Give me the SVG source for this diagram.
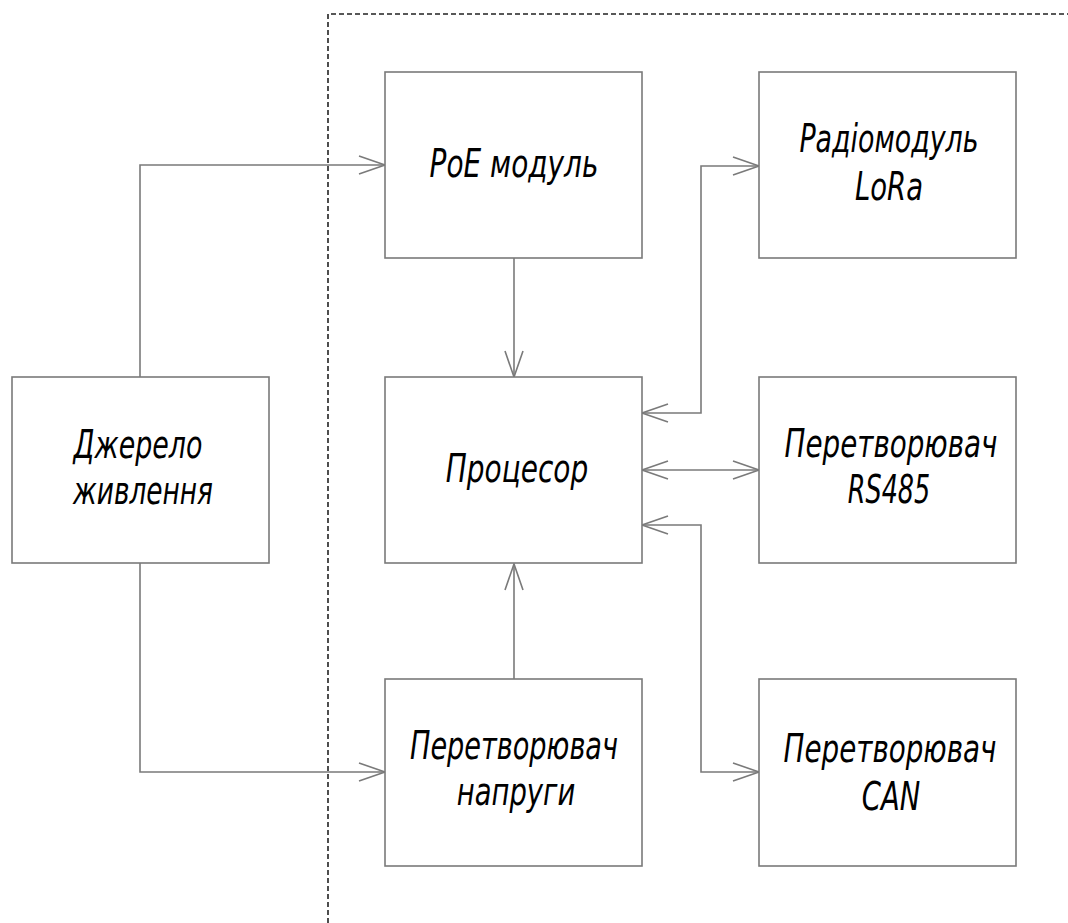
<svg xmlns="http://www.w3.org/2000/svg" width="1068" height="923" viewBox="0 0 1068 923">
<style>
.box{fill:#fff;stroke:#7a7a7a;stroke-width:1.6}
.ln{fill:none;stroke:#7a7a7a;stroke-width:1.6}
.dash{fill:none;stroke:#222;stroke-width:1.6;stroke-dasharray:5,3}
.t{font-family:"DejaVu Sans","Liberation Sans",sans-serif;font-style:italic;font-size:39px;fill:#000;text-anchor:middle}
</style>
<defs>
<marker id="ah" markerUnits="userSpaceOnUse" markerWidth="30" markerHeight="22" refX="28" refY="11" orient="auto-start-reverse" overflow="visible">
<path d="M2,2 L28,11 L2,20" fill="none" stroke="#7a7a7a" stroke-width="1.6"/>
</marker>
</defs>
<rect width="1068" height="923" fill="#fff"/>
<path class="dash" d="M328,923 V14 H1068"/>
<g id="connectors">
<path class="ln" d="M140,377 V165 H385" marker-end="url(#ah)"/>
<path class="ln" d="M140,563 V772 H385" marker-end="url(#ah)"/>
<path class="ln" d="M514,258 V377" marker-end="url(#ah)"/>
<path class="ln" d="M514,679 V564" marker-end="url(#ah)"/>
<path class="ln" d="M642,413 H701 V166 H759" marker-start="url(#ah)" marker-end="url(#ah)"/>
<path class="ln" d="M642,470 H759" marker-start="url(#ah)" marker-end="url(#ah)"/>
<path class="ln" d="M642,525 H701 V772 H759" marker-start="url(#ah)" marker-end="url(#ah)"/>
</g>
<g id="poe">
<rect class="box" x="385" y="72" width="257" height="186"/>
<text class="t" transform="translate(514,177) scale(0.8,1)" textLength="211" lengthAdjust="spacingAndGlyphs">PoE модуль</text>
</g>
<g id="lora">
<rect class="box" x="759" y="72" width="257" height="186"/>
<text class="t" transform="translate(889,152) scale(0.8,1)" textLength="224" lengthAdjust="spacingAndGlyphs">Радіомодуль</text>
<text class="t" transform="translate(889,200) scale(0.8,1)" textLength="85" lengthAdjust="spacingAndGlyphs">LoRa</text>
</g>
<g id="source">
<rect class="box" x="12" y="377" width="257" height="186"/>
<text class="t" transform="translate(138,458) scale(0.8,1)" textLength="161" lengthAdjust="spacingAndGlyphs">Джерело</text>
<text class="t" transform="translate(143,504) scale(0.8,1)" textLength="175" lengthAdjust="spacingAndGlyphs">живлення</text>
</g>
<g id="cpu">
<rect class="box" x="385" y="377" width="257" height="186"/>
<text class="t" transform="translate(517,482) scale(0.8,1)" textLength="178" lengthAdjust="spacingAndGlyphs">Процесор</text>
</g>
<g id="rs485">
<rect class="box" x="759" y="377" width="257" height="186"/>
<text class="t" transform="translate(891,457) scale(0.8,1)" textLength="266" lengthAdjust="spacingAndGlyphs">Перетворювач</text>
<text class="t" transform="translate(889,503) scale(0.8,1)" textLength="103" lengthAdjust="spacingAndGlyphs">RS485</text>
</g>
<g id="vconv">
<rect class="box" x="385" y="679" width="257" height="187"/>
<text class="t" transform="translate(514,759) scale(0.8,1)" textLength="260" lengthAdjust="spacingAndGlyphs">Перетворювач</text>
<text class="t" transform="translate(516,805) scale(0.8,1)" textLength="148" lengthAdjust="spacingAndGlyphs">напруги</text>
</g>
<g id="can">
<rect class="box" x="759" y="679" width="257" height="187"/>
<text class="t" transform="translate(890,762) scale(0.8,1)" textLength="266" lengthAdjust="spacingAndGlyphs">Перетворювач</text>
<text class="t" transform="translate(891,810) scale(0.8,1)" textLength="73" lengthAdjust="spacingAndGlyphs">CAN</text>
</g>
</svg>
